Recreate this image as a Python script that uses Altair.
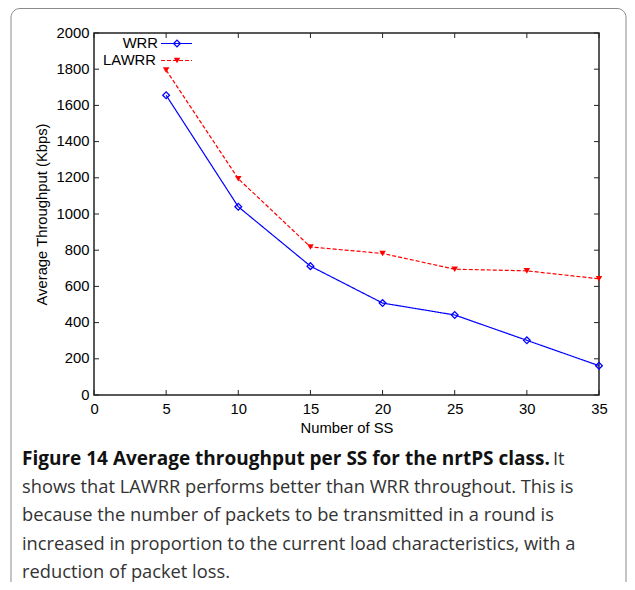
import altair as alt
import pandas as pd

# ---- data ----
X_SS = [5, 10, 15, 20, 25, 30, 35]
WRR = [1656, 1040, 712, 508, 442, 302, 162]
LAWRR = [1795, 1195, 818, 782, 695, 686, 642]
SERIES = ["WRR", "LAWRR"]
COLORS = ["#0000ff", "#ff0000"]
X_TICKS = [0, 5, 10, 15, 20, 25, 30, 35]
Y_TICKS = [0, 200, 400, 600, 800, 1000, 1200, 1400, 1600, 1800, 2000]
X_TITLE = "Number of SS"
Y_TITLE = "Average Throughput (Kbps)"
CAPTION_BOLD = "Figure 14 Average throughput per SS for the nrtPS class."
CAPTION_REST = "It"
CAPTION_LINES = [
    "shows that LAWRR performs better than WRR throughout. This is",
    "because the number of packets to be transmitted in a round is",
    "increased in proportion to the current load characteristics, with a",
    "reduction of packet loss.",
]

W, H = 505, 362
FONT = "Liberation Sans"
FSIZE = 14.8
CFONT = "Open Sans"
CSIZE = 18.3
BSIZE = 19

df = pd.DataFrame({
    "ss": X_SS * 2,
    "thr": WRR + LAWRR,
    "series": [SERIES[0]] * len(X_SS) + [SERIES[1]] * len(X_SS),
})

xscale = alt.Scale(domain=[0, 35], nice=False, zero=False)
yscale = alt.Scale(domain=[0, 2000], nice=False)
color = alt.Color("series:N", scale=alt.Scale(domain=SERIES, range=COLORS), legend=None)
dash = alt.StrokeDash("series:N", scale=alt.Scale(domain=SERIES, range=[[1, 0], [4, 2]]), legend=None)

xaxis = alt.Axis(values=X_TICKS, format="d", ticks=False, domain=False, grid=False, labelPadding=6,
                 labelFont=FONT, labelFontSize=FSIZE, labelColor="#000", labelFlush=False,
                 title=X_TITLE, titleFont=FONT, titleFontSize=FSIZE, titleFontWeight="normal",
                 titleColor="#000", titleY=33, titleBaseline="middle")
yaxis = alt.Axis(values=Y_TICKS, format="d", ticks=False, domain=False, grid=False, labelPadding=5,
                 labelFont=FONT, labelFontSize=FSIZE, labelColor="#000", labelFlush=False,
                 title=Y_TITLE, titleFont=FONT, titleFontSize=FSIZE, titleFontWeight="normal",
                 titleColor="#000", titleX=-52, titleY=H / 2, titleAngle=-90,
                 titleAlign="center", titleBaseline="middle")

X = alt.X("ss:Q", scale=xscale, axis=xaxis)
Y = alt.Y("thr:Q", scale=yscale, axis=yaxis)

lines = alt.Chart(df).mark_line(strokeWidth=1.2).encode(x=X, y=Y, color=color, strokeDash=dash)

pts_wrr = alt.Chart(df).transform_filter(alt.datum.series == SERIES[0]).mark_point(
    shape="diamond", filled=False, size=45, strokeWidth=1.3, color=COLORS[0], opacity=1
).encode(x=X, y=Y)

pts_lawrr = alt.Chart(df).transform_filter(alt.datum.series == SERIES[1]).mark_point(
    shape="triangle-down", filled=True, size=42, color=COLORS[1], opacity=1
).encode(x=X, y=Y)

# inward ticks on all four sides
xt = pd.DataFrame({"ss": X_TICKS})
yt = pd.DataFrame({"thr": Y_TICKS})
tick_style = dict(color="#222", strokeWidth=1)
xt_bottom = alt.Chart(xt).mark_rule(**tick_style).encode(x=X, y=alt.value(H), y2=alt.value(H - 5))
xt_top = alt.Chart(xt).mark_rule(**tick_style).encode(x=X, y=alt.value(0), y2=alt.value(5))
yt_left = alt.Chart(yt).mark_rule(**tick_style).encode(y=Y, x=alt.value(0), x2=alt.value(5))
yt_right = alt.Chart(yt).mark_rule(**tick_style).encode(y=Y, x=alt.value(W), x2=alt.value(W - 5))

# legend (label on the left, sample on the right)
legend_layers = []
for i, name in enumerate(SERIES):
    ly = 10.5 + 17 * i
    ldf = pd.DataFrame({"series": [name]})
    legend_layers.append(alt.Chart(ldf).mark_text(
        align="right", baseline="middle", font=FONT, fontSize=FSIZE, color="#000"
    ).encode(text="series:N", x=alt.value(64 - 2 * i), y=alt.value(ly)))
    legend_layers.append(alt.Chart(ldf).mark_rule(
        strokeWidth=1.2, color=COLORS[i], strokeDash=[1, 0] if i == 0 else [4, 2]
    ).encode(x=alt.value(67), x2=alt.value(98), y=alt.value(ly)))
    legend_layers.append(alt.Chart(ldf).mark_point(
        shape="diamond" if i == 0 else "triangle-down", filled=(i == 1),
        size=45 if i == 0 else 42, strokeWidth=1.3, color=COLORS[i], opacity=1
    ).encode(x=alt.value(83), y=alt.value(ly)))

# caption
cap_layers = []
cap_x = -72
cap_y0 = 432
cap_dy = 28.2
cap_layers.append(alt.Chart(pd.DataFrame({"t": [CAPTION_BOLD]})).mark_text(
    align="left", baseline="alphabetic", font=CFONT, fontSize=BSIZE, fontWeight="bold", color="#111"
).encode(text="t:N", x=alt.value(cap_x), y=alt.value(cap_y0)))
cap_layers.append(alt.Chart(pd.DataFrame({"t": [CAPTION_REST]})).mark_text(
    align="left", baseline="alphabetic", font=CFONT, fontSize=CSIZE, color="#333"
).encode(text="t:N", x=alt.value(459), y=alt.value(cap_y0)))
for j, line in enumerate(CAPTION_LINES):
    cap_layers.append(alt.Chart(pd.DataFrame({"t": [line]})).mark_text(
        align="left", baseline="alphabetic", font=CFONT, fontSize=CSIZE, color="#333"
    ).encode(text="t:N", x=alt.value(cap_x), y=alt.value(cap_y0 + cap_dy * (j + 1))))

border = alt.Chart(pd.DataFrame({"b": [0]})).mark_rect(
    fill="transparent", stroke="#8a8a8a", strokeWidth=1, cornerRadius=9
).encode(x=alt.value(-83), x2=alt.value(532), y=alt.value(-24.5), y2=alt.value(575))

chart = alt.layer(
    border, lines, pts_wrr, pts_lawrr, xt_bottom, xt_top, yt_left, yt_right,
    *legend_layers, *cap_layers
).properties(
    width=W, height=H,
    background="white",
    autosize=alt.AutoSizeParams(type="none"),
    padding={"left": 86, "top": 25, "right": 28, "bottom": 187},
).configure_view(stroke="#222", strokeWidth=1.5)

chart.save("out.html", embed_options={"renderer": "svg", "actions": False})
